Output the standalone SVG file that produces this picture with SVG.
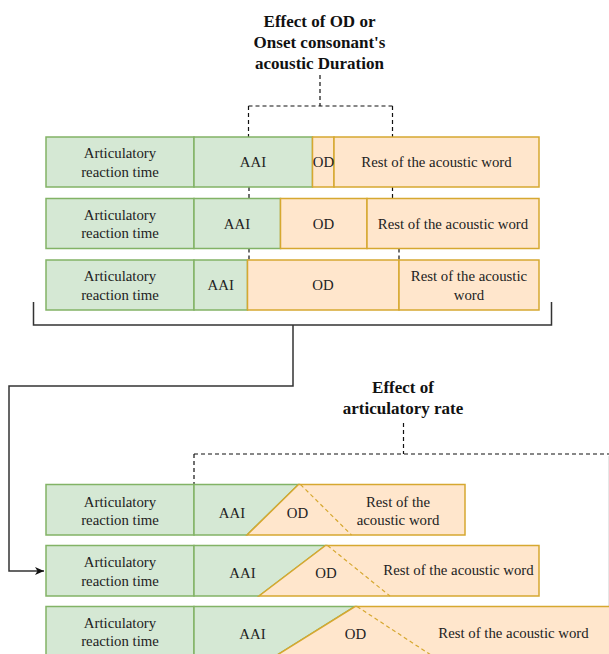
<svg xmlns="http://www.w3.org/2000/svg" width="609" height="654" viewBox="0 0 609 654">
<defs>
<style>
.g{fill:#d5e8d4;stroke:#82b366;stroke-width:1.5}
.o{fill:#ffe6cc;stroke:#d6a830;stroke-width:1.5}
.od{fill:none;stroke:#d6a830;stroke-width:1.2;stroke-dasharray:4 3}
.t{font-family:"Liberation Serif","Times New Roman",serif;font-size:14.8px;fill:#222;text-anchor:middle}
.h{font-family:"Liberation Serif","Times New Roman",serif;font-size:17px;font-weight:bold;fill:#111;text-anchor:middle}
.d{fill:none;stroke:#111;stroke-width:1.2;stroke-dasharray:4 3}
.c{fill:none;stroke:#333;stroke-width:1.5}
</style>
<marker id="arr" markerWidth="10" markerHeight="8" refX="9" refY="4" orient="auto" markerUnits="userSpaceOnUse">
<path d="M0,0 L9,4 L0,8 L2.5,4 Z" fill="#111"/>
</marker>
</defs>
<rect width="609" height="654" fill="#fff"/>

<g id="connectors">
<path class="d" d="M320,75 V106 M248.5,106 H392.5 M248.5,106 V137 M392.5,106 V137"/>
<path class="d" d="M249,187 V198.5 M392.5,187 V198.5 M249,248.5 V260 M399,248.5 V260"/>
<path class="c" d="M33.5,302 V325 H551.5 V302"/>
<path class="c" d="M293,325 V386 H9 V571 H44" marker-end="url(#arr)"/>
<path class="d" d="M403.5,423 V454 M194,454 H609 M194,454 V484.5"/>
<path d="M608.5,456 V606" fill="none" stroke="#e6e6e6" stroke-width="1"/>
</g>

<g id="title1">
<text class="h" x="319.5" y="27">Effect of OD or</text>
<text class="h" x="319.5" y="48">Onset consonant's</text>
<text class="h" x="319.5" y="69">acoustic Duration</text>
</g>

<g id="row1">
<rect class="g" x="46" y="137" width="148" height="50"/>
<rect class="g" x="194" y="137" width="118.5" height="50"/>
<rect class="o" x="312.5" y="137" width="21.5" height="50"/>
<rect class="o" x="334" y="137" width="205" height="50"/>
<text class="t" x="120" y="158">Articulatory</text>
<text class="t" x="120" y="176.5">reaction time</text>
<text class="t" x="253" y="167">AAI</text>
<text class="t" x="323.5" y="167">OD</text>
<text class="t" x="436.5" y="167">Rest of the acoustic word</text>
</g>

<g id="row2">
<rect class="g" x="46" y="198.5" width="148" height="50"/>
<rect class="g" x="194" y="198.5" width="86.5" height="50"/>
<rect class="o" x="280.5" y="198.5" width="86.5" height="50"/>
<rect class="o" x="367" y="198.5" width="172" height="50"/>
<text class="t" x="120" y="219.5">Articulatory</text>
<text class="t" x="120" y="238">reaction time</text>
<text class="t" x="237" y="228.5">AAI</text>
<text class="t" x="323.5" y="228.5">OD</text>
<text class="t" x="453" y="228.5">Rest of the acoustic word</text>
</g>

<g id="row3">
<rect class="g" x="46" y="260" width="148" height="50"/>
<rect class="g" x="194" y="260" width="53.5" height="50"/>
<rect class="o" x="247.5" y="260" width="151.5" height="50"/>
<rect class="o" x="399" y="260" width="140" height="50"/>
<text class="t" x="120" y="281">Articulatory</text>
<text class="t" x="120" y="299.5">reaction time</text>
<text class="t" x="220.7" y="290">AAI</text>
<text class="t" x="323" y="290">OD</text>
<text class="t" x="469" y="281">Rest of the acoustic</text>
<text class="t" x="469" y="299.5">word</text>
</g>

<g id="title2">
<text class="h" x="403" y="393">Effect of</text>
<text class="h" x="403" y="414">articulatory rate</text>
</g>

<g id="rowB1">
<rect class="g" x="46" y="484.5" width="148" height="50.5"/>
<polygon class="g" points="194,484.5 298.5,484.5 247,535 194,535"/>
<polygon class="o" points="298.5,484.5 465,484.5 465,535 247,535"/>
<path class="od" d="M300.5,484.5 L351.5,535"/>
<text class="t" x="120" y="506.5">Articulatory</text>
<text class="t" x="120" y="525">reaction time</text>
<text class="t" x="232" y="517.5">AAI</text>
<text class="t" x="297.5" y="517.5">OD</text>
<text class="t" x="398" y="506.5">Rest of the</text>
<text class="t" x="398" y="525">acoustic word</text>
</g>

<g id="rowB2">
<rect class="g" x="46" y="545.5" width="148" height="50.5"/>
<polygon class="g" points="194,545.5 325.5,545.5 259,596 194,596"/>
<polygon class="o" points="325.5,545.5 539,545.5 539,596 259,596"/>
<path class="od" d="M327.5,545.5 L390,596"/>
<text class="t" x="120" y="567">Articulatory</text>
<text class="t" x="120" y="585.5">reaction time</text>
<text class="t" x="242.5" y="578">AAI</text>
<text class="t" x="326" y="578">OD</text>
<text class="t" x="458.5" y="575">Rest of the acoustic word</text>
</g>

<g id="rowB3">
<rect class="g" x="46" y="606.5" width="148" height="50.5"/>
<polygon class="g" points="194,606.5 355,606.5 274,657 194,657"/>
<polygon class="o" points="355,606.5 625,606.5 625,657 274,657"/>
<path class="od" d="M357,606.5 L434,657"/>
<text class="t" x="120" y="627.5">Articulatory</text>
<text class="t" x="120" y="646">reaction time</text>
<text class="t" x="252.5" y="639">AAI</text>
<text class="t" x="355.5" y="639">OD</text>
<text class="t" x="513.5" y="637.5">Rest of the acoustic word</text>
</g>
</svg>
